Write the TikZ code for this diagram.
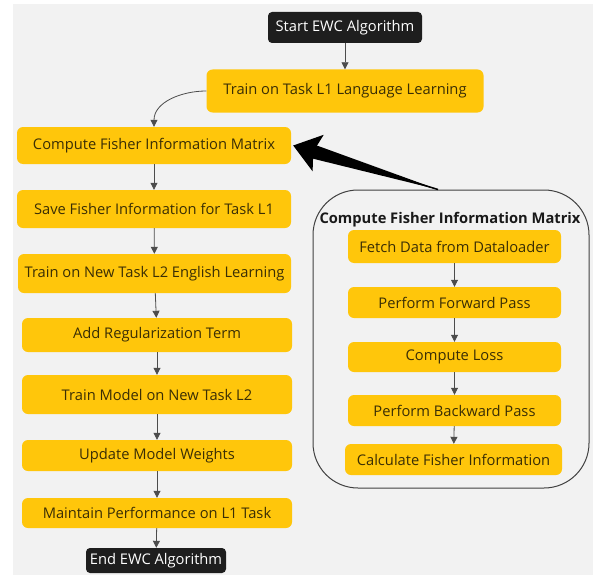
\documentclass[tikz,border=0pt]{standalone}
\usepackage{fontspec}
\setmainfont{Open Sans}
\usepackage{tikz}
\usetikzlibrary{shapes,arrows.meta}
\usetikzlibrary{positioning}
\usetikzlibrary{calc}
\definecolor{ewcbg}{HTML}{F2F2F2}
\definecolor{ewcyellow}{HTML}{FFC60B}
\definecolor{ewcdark}{HTML}{1E1E1E}
\definecolor{ewctext}{HTML}{3A2E05}

\begin{document}
\begin{tikzpicture}[x=1pt,y=-1pt,
    font=\fontsize{14.7}{17}\selectfont,
    stepbox/.style={fill=ewcyellow,text=ewctext,rounded corners=6pt,inner sep=0pt,minimum height=#1},
    stepbox/.default=36pt,
    endbox/.style={fill=ewcdark,text=white,rounded corners=4pt,inner sep=0pt},
    flow/.style={draw=black!70,line width=0.8pt,-{Triangle[length=7pt,width=7pt]}}]
       \useasboundingbox (0,0) rectangle (593,575);
       \fill[ewcbg] (13,4) rectangle (593,575);
       % main flow
       \node[endbox,minimum width=154pt,minimum height=31pt] (start) at (345,27.5) {Start EWC Algorithm};
       \node[stepbox=43pt,minimum width=277pt] (trainone) at (345,91) {Train on Task L1 Language Learning};
       \node[stepbox=37pt,minimum width=274pt] (cfm) at (154,145.5) {Compute Fisher Information Matrix};
       \node[stepbox=38pt,minimum width=274pt] (save) at (154,209) {Save Fisher Information for Task L1};
       \node[stepbox=39pt,minimum width=273pt] (traintwo) at (154.5,273.5) {Train on New Task L2 English Learning};
       \node[stepbox=34pt,minimum width=270pt] (addreg) at (157,335) {Add Regularization Term};
       \node[stepbox=39pt,minimum width=270pt] (trainmodel) at (157,394.5) {Train Model on New Task L2};
       \node[stepbox=31pt,minimum width=270pt] (update) at (157,455.5) {Update Model Weights};
       \node[stepbox=30pt,minimum width=270pt] (maintain) at (157,513) {Maintain Performance on L1 Task};
       \node[endbox,minimum width=140pt,minimum height=25pt] (finish) at (156,560.5) {End EWC Algorithm};
       % sub steps of the matrix
       \node[draw=black!75,line width=1pt,rounded corners=45pt,minimum width=276pt,minimum height=298pt,inner sep=0pt] (fisherbox) at (451,339) {};
       \node[font=\fontsize{14.7}{17}\selectfont\bfseries,text=black!90] (fishertitle) at (450,220) {Compute Fisher Information Matrix};
       \node[stepbox=33pt,minimum width=213pt] (fetch) at (454.5,246.5) {Fetch Data from Dataloader};
       \node[stepbox=31pt,minimum width=213pt] (forward) at (454.5,302.5) {Perform Forward Pass};
       \node[stepbox=30pt,minimum width=213pt] (loss) at (454.5,357) {Compute Loss};
       \node[stepbox=31pt,minimum width=213pt] (backward) at (454.5,410.5) {Perform Backward Pass};
       \node[stepbox=31pt,minimum width=217pt] (calcfisher) at (453.5,459.5) {Calculate Fisher Information};
       \coordinate (cfmtail) at ([xshift=-13pt]fisherbox.north);
       \coordinate (cfmhead) at ([xshift=2pt]cfm.east);
       \coordinate (cfmbase) at ($(cfmhead)!20pt!(cfmtail)$);
       % connectors
       \draw[flow] (start) -- (trainone);
       \draw[flow] (trainone.west) to[out=180,in=90] (cfm.north);
       \draw[flow] (cfm) -- (save);
       \draw[flow] (save) -- (traintwo);
       \draw[flow] (traintwo) -- (addreg);
       \draw[flow] (addreg) -- (trainmodel);
       \draw[flow] (trainmodel) -- (update);
       \draw[flow] (update) -- (maintain);
       \draw[flow] (maintain) -- (finish);
       \draw[flow] (fetch) -- (forward);
       \draw[flow] (forward) -- (loss);
       \draw[flow] (loss) -- (backward);
       \draw[flow] (backward) -- (calcfisher);
       %\draw[dashed] (fisherbox.north) -- (cfm.east);
       \fill (cfmtail) -- ($(cfmbase)!7pt!90:(cfmtail)$) -- ($(cfmbase)!7pt!-90:(cfmtail)$) -- cycle;
       \draw[line width=1.5pt,-{Stealth[length=26pt,width=38pt,inset=5pt]}] (cfmtail) -- (cfmhead);
\end{tikzpicture}
\end{document}
